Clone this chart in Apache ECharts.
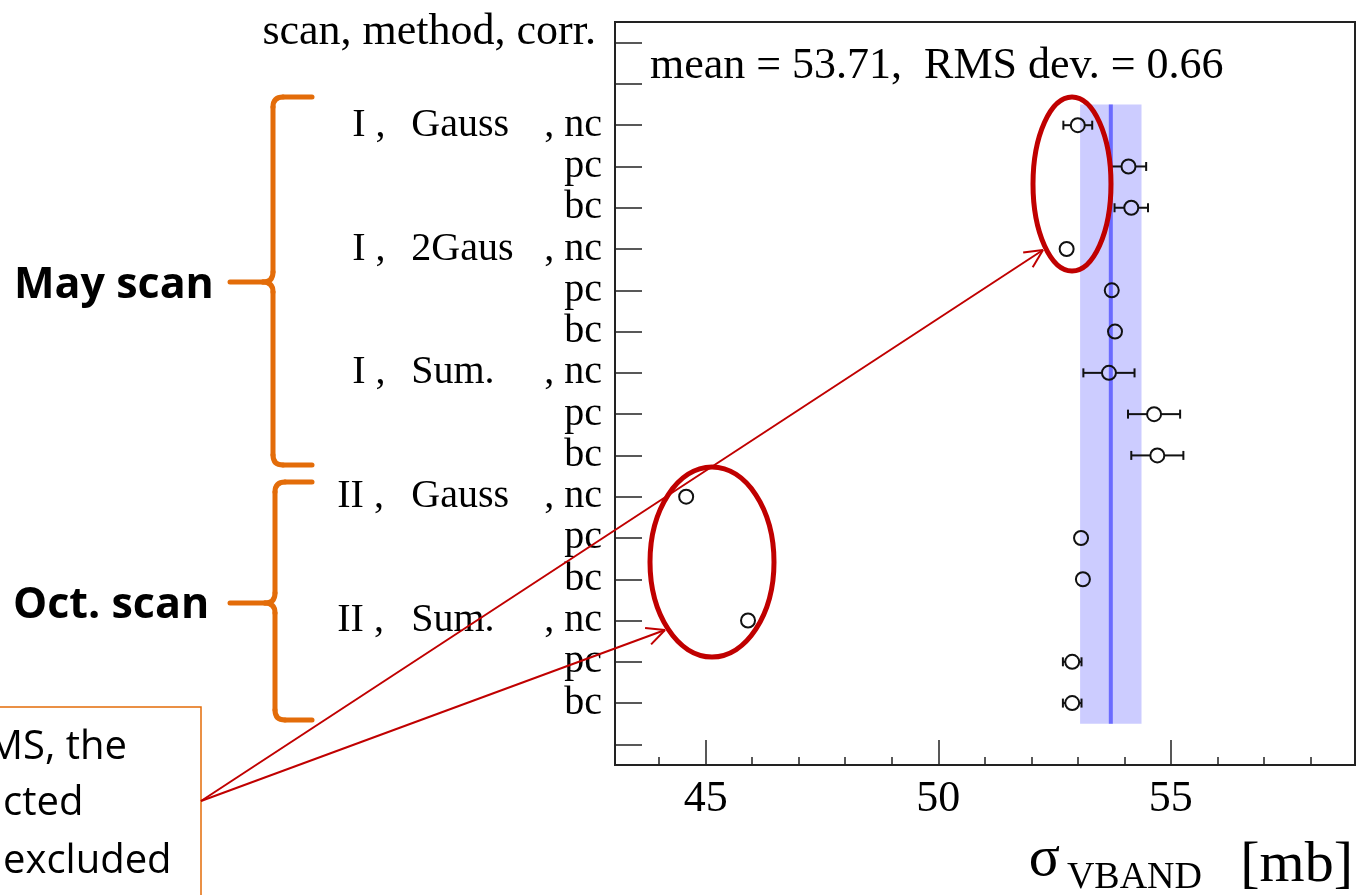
<!DOCTYPE html>
<html>
<head>
<meta charset="utf-8">
<script src="https://cdn.jsdelivr.net/npm/echarts@6/dist/echarts.min.js"></script>
<style>
html, body { margin: 0; padding: 0; background: #fff; }
#chart { width: 1358px; height: 895px; }
</style>
</head>
<body>
<div id="chart"></div>
<script>
// rows of the fit table, top to bottom
const scanNames = ['I', '', '', 'I', '', '', 'I', '', '', 'II', '', '', 'II', '', '']
const methodNames = ['Gauss', '', '', '2Gaus', '', '', 'Sum.', '', '', 'Gauss', '', '', 'Sum.', '', '']
const corrNames = ['nc', 'pc', 'bc', 'nc', 'pc', 'bc', 'nc', 'pc', 'bc', 'nc', 'pc', 'bc', 'nc', 'pc', 'bc']
const rowPositions = [2.5, 3.5, 4.5, 5.5, 6.5, 7.5, 8.5, 9.5, 10.5, 11.5, 12.5, 13.5, 14.5, 15.5, 16.5]

// sigma_VBAND values and errors [mb]
const sigmaValues = [53.00, 54.09, 54.15, 52.76, 53.73, 53.80, 53.67, 54.64, 54.71, 44.58, 53.07, 53.11, 45.91, 52.88, 52.88]
const sigmaErrors = [0.31, 0.38, 0.36, 0, 0, 0, 0.55, 0.56, 0.56, 0, 0, 0, 0, 0.2, 0.2]

// mean band
const meanValue = 53.71
const rmsDev = 0.66
const bandRows = [2, 17]

// ticks
const majorTicks = [45, 50, 55]
const minorTicks = [44, 46, 47, 48, 49, 51, 52, 53, 54, 56, 57, 58]
const rowTicks = [0.5, 1.5, 2.5, 3.5, 4.5, 5.5, 6.5, 7.5, 8.5, 9.5, 10.5, 11.5, 12.5, 13.5, 14.5, 15.5, 16.5, 17.5]
const headerPos = 0.25

const serif = '"Liberation Serif", "Times New Roman", serif'
const sans = '"Open Sans", "Noto Sans", sans-serif'
const orange = '#e36c09'
const red = '#c00000'

const chart = echarts.init(document.getElementById('chart'))

// curly brace made of lines and rounded corners
const brace = (xv, xe, yTop, yMid, yBot, xTip) => {
  const r = 10
  const st = { stroke: orange, lineWidth: 5, fill: null, lineCap: 'round' }
  const ln = (x1, y1, x2, y2) => ({ type: 'line', z: 100, silent: true, shape: { x1, y1, x2, y2 }, style: st })
  const bz = (x1, y1, cx, cy, x2, y2) => ({ type: 'bezierCurve', z: 100, silent: true, shape: { x1, y1, cpx1: cx, cpy1: cy, x2, y2 }, style: st })
  return [
    ln(xe, yTop, xv + r, yTop),
    bz(xv + r, yTop, xv, yTop, xv, yTop + r),
    ln(xv, yTop + r, xv, yMid - r),
    bz(xv, yMid - r, xv, yMid, xv - r, yMid),
    ln(xv - r, yMid, xTip, yMid),
    bz(xv - r, yMid, xv, yMid, xv, yMid + r),
    ln(xv, yMid + r, xv, yBot - r),
    bz(xv, yBot - r, xv, yBot, xv + r, yBot),
    ln(xv + r, yBot, xe, yBot)
  ]
}

// arrow with an open head
const arrow = (x1, y1, x2, y2) => {
  const st = { stroke: red, lineWidth: 2 }
  const a = Math.atan2(y2 - y1, x2 - x1)
  const len = 20
  const w = 0.45
  const out = [{ type: 'line', z: 100, silent: true, shape: { x1, y1, x2, y2 }, style: st }]
  ;[-w, w].forEach(d => {
    out.push({
      type: 'line', z: 100, silent: true,
      shape: { x1: x2, y1: y2, x2: x2 - len * Math.cos(a + d), y2: y2 - len * Math.sin(a + d) },
      style: st
    })
  })
  return out
}

const txt = (text, x, y, font, align) => ({
  type: 'text', z: 100, silent: true,
  style: {
    text, x, y, font, fill: '#000',
    textAlign: align || 'left', align: align || 'left',
    textVerticalAlign: 'middle', verticalAlign: 'middle'
  }
})

// label pieces, all packed from the left: [pad] scan | method | corr
const tok = extra => Object.assign({ fontFamily: serif, fontSize: 40, color: '#000', align: 'left' }, extra)
const labelRich = {
  h: { fontFamily: serif, fontSize: 44, color: '#000', padding: [0, 6, 0, 0] },
  p: tok({ width: 15 }),
  s1: tok({ width: 59 }),
  s2: tok({ width: 74 }),
  m: tok({ width: 133 }),
  c: tok({})
}

const option = {
  animation: false,
  backgroundColor: '#fff',
  grid: {
    left: 615, right: 3, top: 22, bottom: 130,
    show: true, borderColor: '#222', borderWidth: 2, backgroundColor: 'transparent'
  },
  xAxis: [
    {
      type: 'value', min: 43.05, max: 58.96, position: 'bottom',
      splitLine: { show: false },
      axisLine: { show: true, onZero: false, lineStyle: { color: '#222', width: 2 } },
      axisTick: { show: true, inside: true, length: 25, customValues: majorTicks, lineStyle: { color: '#222', width: 1.5 } },
      axisLabel: { customValues: majorTicks, fontFamily: serif, fontSize: 44, color: '#000', margin: 12 }
    },
    {
      type: 'value', min: 43.05, max: 58.96, position: 'bottom',
      splitLine: { show: false },
      axisLine: { show: false, onZero: false },
      axisTick: { show: true, inside: true, length: 8, customValues: minorTicks, lineStyle: { color: '#222', width: 1.5 } },
      axisLabel: { show: false }
    }
  ],
  yAxis: {
    type: 'value', min: 0, max: 18, inverse: true,
    splitLine: { show: false },
    axisLine: { show: true, onZero: false, lineStyle: { color: '#222', width: 2 } },
    axisTick: { show: true, inside: true, length: 27, customValues: rowTicks, lineStyle: { color: '#222', width: 1.5 } },
    axisLabel: {
      customValues: [headerPos].concat(rowPositions),
      margin: 13,
      fontFamily: serif, fontSize: 40, color: '#000',
      formatter: v => {
        if (v === headerPos) return '{h|scan, method, corr.}'
        const i = rowPositions.indexOf(v)
        if (i < 0) return ''
        if (methodNames[i]) {
          const scan = scanNames[i].length > 1
            ? `{s2|${scanNames[i]} ,}`
            : `{p| }{s1|${scanNames[i]} ,}`
          return `${scan}{m|${methodNames[i]}}{c|, ${corrNames[i]}}`
        }
        return `{c|${corrNames[i]}}`
      },
      rich: labelRich
    }
  },
  series: [
    {
      // mean +- RMS band
      type: 'custom',
      z: 1,
      silent: true,
      data: [[meanValue - rmsDev, meanValue + rmsDev, bandRows[0], bandRows[1], meanValue]],
      encode: { x: [0, 1, 4], y: [2, 3] },
      renderItem: (params, api) => {
        const p0 = api.coord([api.value(0), api.value(2)])
        const p1 = api.coord([api.value(1), api.value(3)])
        const m = api.coord([api.value(4), api.value(2)])
        return {
          type: 'group',
          children: [
            { type: 'rect', shape: { x: p0[0], y: p0[1], width: p1[0] - p0[0], height: p1[1] - p0[1] }, style: { fill: '#ccccff' } },
            { type: 'line', shape: { x1: m[0], y1: p0[1], x2: m[0], y2: p1[1] }, style: { stroke: '#6b6bff', lineWidth: 4 } }
          ]
        }
      }
    },
    {
      // horizontal error bars
      type: 'custom',
      z: 2,
      silent: true,
      data: sigmaValues.map((v, i) => [v, rowPositions[i], sigmaErrors[i]]),
      encode: { x: 0, y: 1 },
      renderItem: (params, api) => {
        const err = api.value(2)
        if (!err) return null
        const c = api.coord([api.value(0), api.value(1)])
        const lo = api.coord([api.value(0) - err, api.value(1)])
        const hi = api.coord([api.value(0) + err, api.value(1)])
        const r = 7
        const st = { stroke: '#111', lineWidth: 2 }
        const kids = [
          { type: 'line', shape: { x1: lo[0], y1: c[1] - 4.5, x2: lo[0], y2: c[1] + 4.5 }, style: st },
          { type: 'line', shape: { x1: hi[0], y1: c[1] - 4.5, x2: hi[0], y2: c[1] + 4.5 }, style: st }
        ]
        if (c[0] - lo[0] > r) {
          kids.push({ type: 'line', shape: { x1: lo[0], y1: c[1], x2: c[0] - r, y2: c[1] }, style: st })
          kids.push({ type: 'line', shape: { x1: c[0] + r, y1: c[1], x2: hi[0], y2: c[1] }, style: st })
        }
        return { type: 'group', children: kids }
      }
    },
    {
      type: 'scatter',
      xAxisIndex: 0,
      z: 3,
      silent: true,
      symbol: 'circle',
      symbolSize: 14,
      itemStyle: { color: 'rgba(0,0,0,0)', borderColor: '#111', borderWidth: 2, opacity: 1 },
      data: sigmaValues.map((v, i) => [v, rowPositions[i]])
    }
  ],
  graphic: [
    txt('mean = 53.71,  RMS dev. = 0.66', 650, 66, `44px ${serif}`),
    txt('[mb]', 1353, 866, `58px ${serif}`, 'right'),
    txt('VBAND', 1202, 878, `38px ${serif}`, 'right'),
    txt('σ', 1060, 860, `58px ${serif}`, 'right'),
    txt('May scan', 14, 286, `bold 43px ${sans}`),
    txt('Oct. scan', 13, 606, `bold 43px ${sans}`),
    ...brace(273, 312, 97, 282, 465, 230),
    ...brace(275, 312, 482, 603, 720, 230),
    {
      type: 'rect', z: 99, silent: true,
      shape: { x: -3, y: 707, width: 204, height: 220 },
      style: { fill: '#fff', stroke: orange, lineWidth: 1.5 }
    },
    txt('MS, the', -13, 748, `40px ${sans}`),
    txt('cted', 3, 804, `40px ${sans}`),
    txt('excluded', 3, 862, `40px ${sans}`),
    { type: 'ellipse', z: 100, silent: true, shape: { cx: 1072, cy: 184, rx: 39, ry: 87 }, style: { fill: null, stroke: red, lineWidth: 5 } },
    { type: 'ellipse', z: 100, silent: true, shape: { cx: 712, cy: 562, rx: 62, ry: 95 }, style: { fill: null, stroke: red, lineWidth: 5 } },
    ...arrow(201, 801, 1043, 250),
    ...arrow(201, 801, 665, 630)
  ]
}

chart.setOption(option)
</script>
</body>
</html>
